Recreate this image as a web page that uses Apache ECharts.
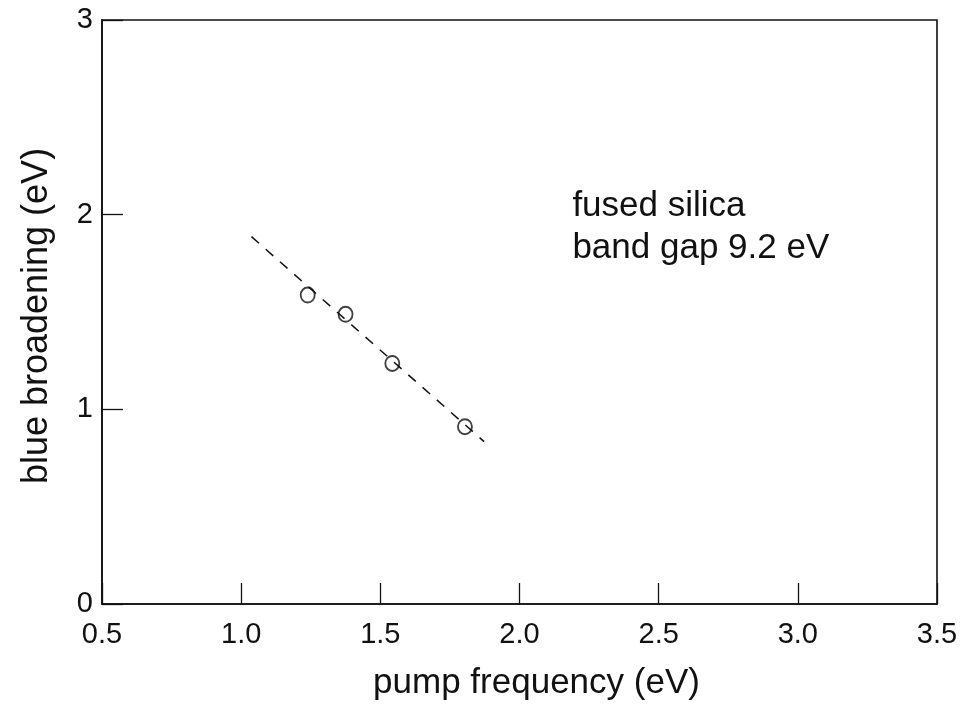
<!DOCTYPE html>
<html>
<head>
<meta charset="utf-8">
<script src="https://cdn.jsdelivr.net/npm/echarts@6/dist/echarts.min.js"></script>
<style>html,body{margin:0;padding:0;background:#fff}#c{width:969px;height:704px}</style>
</head>
<body>
<div id="c"></div>
<script>
var pumpFreq = [1.239, 1.375, 1.543, 1.804];
var blueBroadening = [1.587, 1.488, 1.236, 0.911];
var fitLineX = [1.037, 1.873];
var fitLineY = [1.887, 0.834];
var annotationLines = ['fused silica', 'band gap 9.2 eV'];
var annotationAt = [2.19, 1.935];

var font = 'Liberation Sans, Arial, Helvetica, sans-serif';
var chart = echarts.init(document.getElementById('c'), null, {renderer: 'canvas'});
var axisCommon = {
  axisLine: {show: true, lineStyle: {color: '#111', width: 1.6}},
  axisTick: {show: true, inside: true, length: 21, lineStyle: {color: '#111', width: 1.3}},
  splitLine: {show: false},
  nameLocation: 'middle'
};
chart.setOption({
  animation: false,
  backgroundColor: '#fff',
  grid: {left: 102, right: 32, top: 20, bottom: 100, show: true, borderColor: '#111', borderWidth: 1.6,
    containLabel: false, outerBoundsMode: 'none'},
  xAxis: Object.assign({}, axisCommon, {
    type: 'value', min: 0.5, max: 3.5, interval: 0.5,
    name: 'pump frequency (eV)', nameGap: 62,
    nameTextStyle: {fontFamily: font, fontSize: 35, color: '#111', padding: [0, 0, 0, 34]},
    axisLabel: {fontFamily: font, fontSize: 29, color: '#111', margin: 16,
      formatter: function (v) { return v.toFixed(1); }}
  }),
  yAxis: Object.assign({}, axisCommon, {
    type: 'value', min: 0, max: 3, interval: 1,
    name: 'blue broadening (eV)', nameGap: 47,
    nameTextStyle: {fontFamily: font, fontSize: 36, color: '#111', padding: [0, 8, 0, 0]},
    axisLabel: {fontFamily: font, fontSize: 29, color: '#111', margin: 9}
  }),
  series: [
    {
      type: 'line', data: fitLineX.map(function (x, i) { return [x, fitLineY[i]]; }),
      symbol: 'none', lineStyle: {color: '#111', width: 1.5, type: [10, 9]}, z: 2
    },
    {
      type: 'scatter', data: pumpFreq.map(function (x, i) { return [x, blueBroadening[i]]; }),
      symbol: 'circle', symbolSize: [14, 15],
      itemStyle: {color: 'rgba(255,255,255,0)', borderColor: '#111', borderWidth: 1.9}, z: 3
    }
  ]
});
var p = chart.convertToPixel({gridIndex: 0}, annotationAt);
chart.setOption({
  graphic: [{
    type: 'text', x: p[0], y: p[1],
    style: {text: annotationLines.join('\n'), fontFamily: font, fontSize: 35, lineHeight: 42,
      fill: '#111', align: 'left', verticalAlign: 'middle'}
  }]
});
</script>
</body>
</html>
